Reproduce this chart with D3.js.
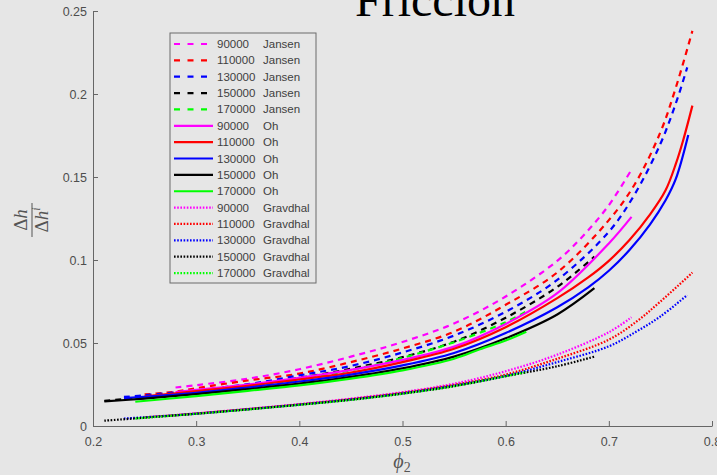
<!DOCTYPE html>
<html>
<head>
<meta charset="utf-8">
<script src="https://cdn.jsdelivr.net/npm/d3@7"></script>
<style>
  html, body { margin: 0; padding: 0; background: #e6e6e6; }
  svg { display: block; }
  .tick text { font-family: "Liberation Sans", Arial, sans-serif; font-size: 12.5px; fill: #4d4d4d; }
  .legend text { font-family: "Liberation Sans", Arial, sans-serif; font-size: 11.5px; fill: #404040; }
</style>
</head>
<body>
<div id="chart"></div>
<script>
// phi_2, delta h / delta h^i
const flows = ["90000", "110000", "130000", "150000", "170000"]
const flowColors = ["#ff00ff", "#ff0000", "#0000ff", "#000000", "#00ff00"]
const models = ["Jansen", "Oh", "Gravdhal"]

const jansen90000 = [[0.28,0.0232],[0.30,0.0246],[0.35,0.0285],[0.40,0.0342],[0.45,0.0418],[0.50,0.0506],[0.55,0.0618],[0.60,0.0780],[0.65,0.0995],[0.675,0.1145],[0.70,0.1330],[0.722,0.1545]]
const jansen110000 = [[0.25,0.0190],[0.28,0.0207],[0.30,0.0228],[0.35,0.0274],[0.40,0.0316],[0.45,0.0385],[0.50,0.0467],[0.55,0.0568],[0.60,0.0730],[0.65,0.0925],[0.70,0.1240],[0.725,0.1455],[0.75,0.1770],[0.765,0.2040],[0.781,0.2380]]
const jansen130000 = [[0.23,0.0175],[0.25,0.0185],[0.30,0.0215],[0.35,0.0252],[0.40,0.0305],[0.45,0.0362],[0.50,0.0443],[0.55,0.0545],[0.60,0.0688],[0.65,0.0880],[0.70,0.1170],[0.725,0.1395],[0.75,0.1700],[0.765,0.1945],[0.776,0.2160]]
const jansen150000 = [[0.211,0.0152],[0.25,0.0172],[0.30,0.0203],[0.35,0.0242],[0.40,0.0290],[0.45,0.0345],[0.50,0.0415],[0.55,0.0508],[0.60,0.0652],[0.65,0.0838],[0.686,0.1020]]
const jansen170000 = [[0.241,0.0163],[0.30,0.0198],[0.35,0.0234],[0.40,0.0280],[0.45,0.0336],[0.50,0.0410],[0.55,0.0505],[0.60,0.0625],[0.62,0.0690]]

const oh90000 = [[0.28,0.0205],[0.30,0.0218],[0.35,0.0250],[0.40,0.0290],[0.45,0.0338],[0.50,0.0398],[0.55,0.0478],[0.60,0.0615],[0.65,0.0800],[0.70,0.1100],[0.722,0.1260]]
const oh110000 = [[0.25,0.0178],[0.30,0.0210],[0.35,0.0242],[0.40,0.0280],[0.45,0.0322],[0.50,0.0385],[0.55,0.0465],[0.60,0.0595],[0.65,0.0770],[0.68,0.0895],[0.70,0.0995],[0.72,0.1120],[0.74,0.1275],[0.755,0.1420],[0.765,0.1580],[0.772,0.1720],[0.781,0.1930]]
const oh130000 = [[0.23,0.0168],[0.30,0.0200],[0.35,0.0232],[0.40,0.0268],[0.45,0.0310],[0.50,0.0365],[0.55,0.0440],[0.60,0.0560],[0.65,0.0715],[0.68,0.0835],[0.70,0.0935],[0.72,0.1060],[0.74,0.1215],[0.755,0.1360],[0.765,0.1490],[0.777,0.1753]]
const oh150000 = [[0.211,0.0148],[0.25,0.0165],[0.30,0.0192],[0.35,0.0222],[0.40,0.0255],[0.45,0.0296],[0.50,0.0347],[0.55,0.0418],[0.60,0.0528],[0.65,0.0672],[0.686,0.0830]]
const oh170000 = [[0.241,0.0146],[0.30,0.0180],[0.35,0.0212],[0.40,0.0245],[0.45,0.0285],[0.50,0.0335],[0.55,0.0405],[0.575,0.0462],[0.60,0.0515],[0.62,0.0568]]

const gravdhal90000 = [[0.28,0.0065],[0.30,0.0076],[0.35,0.0103],[0.40,0.0132],[0.45,0.0165],[0.50,0.0204],[0.55,0.0255],[0.60,0.0330],[0.65,0.0430],[0.70,0.0565],[0.722,0.0655]]
const gravdhal110000 = [[0.25,0.0052],[0.30,0.0075],[0.35,0.0102],[0.40,0.0130],[0.45,0.0162],[0.50,0.0200],[0.55,0.0248],[0.60,0.0310],[0.65,0.0405],[0.70,0.0520],[0.727,0.0630],[0.75,0.0750],[0.781,0.0924]]
const gravdhal130000 = [[0.23,0.0045],[0.30,0.0074],[0.35,0.0101],[0.40,0.0129],[0.45,0.0160],[0.50,0.0197],[0.55,0.0244],[0.60,0.0302],[0.65,0.0385],[0.70,0.0480],[0.727,0.0570],[0.75,0.0660],[0.776,0.0789]]
const gravdhal150000 = [[0.211,0.0032],[0.25,0.0050],[0.30,0.0074],[0.35,0.0100],[0.40,0.0128],[0.45,0.0158],[0.50,0.0195],[0.55,0.0240],[0.60,0.0300],[0.65,0.0360],[0.686,0.0418]]
const gravdhal170000 = [[0.241,0.0045],[0.30,0.0073],[0.35,0.0099],[0.40,0.0127],[0.45,0.0157],[0.50,0.0194],[0.55,0.0240],[0.60,0.0300],[0.62,0.0325]]

const xTicks = [0.2, 0.3, 0.4, 0.5, 0.6, 0.7, 0.8]
const yTicks = [0, 0.05, 0.1, 0.15, 0.2, 0.25]

const curves = {
  Jansen: [jansen90000, jansen110000, jansen130000, jansen150000, jansen170000],
  Oh: [oh90000, oh110000, oh130000, oh150000, oh170000],
  Gravdhal: [gravdhal90000, gravdhal110000, gravdhal130000, gravdhal150000, gravdhal170000],
}

var dims = {
  width: 717,
  height: 475,
  left: 93, right: 712, top: 11, bottom: 426,
  legend: { x: 170, y: 33, w: 146, h: 250, firstRow: 11, rowStep: 16.36 },
}

var dash = { Jansen: "6,5", Oh: null, Gravdhal: "1.6,1.6" }

var svg = d3.select("#chart").append("svg")
  .attr("width", dims.width)
  .attr("height", dims.height)

svg.append("rect")
  .attr("width", dims.width)
  .attr("height", dims.height)
  .attr("fill", "#e6e6e6")

var x = d3.scaleLinear().domain([0.2, 0.8]).range([dims.left, dims.right])
var y = d3.scaleLinear().domain([0, 0.25]).range([dims.bottom, dims.top])

// title
svg.append("text")
  .attr("x", 435)
  .attr("y", 16)
  .attr("text-anchor", "middle")
  .attr("font-family", "Liberation Serif, Times New Roman, serif")
  .attr("font-size", "48px")
  .attr("fill", "#000")
  .text("Fricción")

// curves
var line = d3.line()
  .x(d => x(d[0]))
  .y(d => y(d[1]))
  .curve(d3.curveCatmullRom.alpha(0.5))

var gCurves = svg.append("g")
models.forEach(m => {
  curves[m].forEach((data, i) => {
    gCurves.append("path")
      .attr("d", line(data))
      .attr("fill", "none")
      .attr("stroke", flowColors[i])
      .attr("stroke-width", 2.2)
      .attr("stroke-dasharray", dash[m])
  })
})

// axes
var xAxis = svg.append("g")
  .attr("transform", `translate(0,${dims.bottom})`)
  .call(d3.axisBottom(x)
    .tickValues(xTicks)
    .tickFormat(d3.format("~g"))
    .tickSizeInner(-5)
    .tickSizeOuter(0)
    .tickPadding(11))
var yAxis = svg.append("g")
  .attr("transform", `translate(${dims.left},0)`)
  .call(d3.axisLeft(y)
    .tickValues(yTicks)
    .tickFormat(d3.format("~g"))
    .tickSizeInner(-5)
    .tickSizeOuter(0)
    .tickPadding(6))
;[xAxis, yAxis].forEach(a => {
  a.select(".domain").attr("stroke", "#666").attr("stroke-width", 1)
  a.selectAll(".tick line").attr("stroke", "#666")
})

// axis labels
var xLabel = svg.append("text")
  .attr("x", 402)
  .attr("y", 468)
  .attr("text-anchor", "middle")
  .attr("font-family", "Liberation Serif, serif")
  .attr("font-size", "20px")
  .attr("fill", "#555")
xLabel.append("tspan").attr("font-style", "italic").text("ϕ")
xLabel.append("tspan").attr("font-size", "14px").attr("dy", 4).text("2")

var gYLabel = svg.append("g")
  .attr("transform", "translate(32,220) rotate(-90)")
  .attr("font-family", "Liberation Serif, serif")
  .attr("fill", "#555")
var num = gYLabel.append("text").attr("text-anchor", "middle").attr("y", -5).attr("font-size", "19px")
num.append("tspan").text("Δ")
num.append("tspan").attr("font-style", "italic").text("h")
gYLabel.append("line")
  .attr("x1", -17).attr("x2", 17).attr("y1", 0).attr("y2", 0)
  .attr("stroke", "#555").attr("stroke-width", 1)
var den = gYLabel.append("text").attr("text-anchor", "middle").attr("y", 16).attr("font-size", "19px")
den.append("tspan").text("Δ")
den.append("tspan").attr("font-style", "italic").text("h")
den.append("tspan").attr("font-style", "italic").attr("font-size", "12px").attr("dy", -8).text("i")

// legend
var L = dims.legend
var gLegend = svg.append("g")
  .attr("class", "legend")
  .attr("transform", `translate(${L.x},${L.y})`)
gLegend.append("rect")
  .attr("width", L.w)
  .attr("height", L.h)
  .attr("fill", "#e6e6e6")
  .attr("stroke", "#6b6b6b")
  .attr("stroke-width", 1)

var rows = []
models.forEach(m => flows.forEach((f, i) => rows.push({ model: m, flow: f, color: flowColors[i] })))
var row = gLegend.selectAll(".row")
  .data(rows)
  .enter().append("g")
  .attr("class", "row")
  .attr("transform", (d, i) => `translate(0,${L.firstRow + i * L.rowStep})`)
row.append("line")
  .attr("x1", 4).attr("x2", 43)
  .attr("stroke", d => d.color)
  .attr("stroke-width", 2.2)
  .attr("stroke-dasharray", d => d.model === "Jansen" ? "6,7.5" : dash[d.model])
row.append("text")
  .attr("x", 47).attr("y", 4)
  .text(d => d.flow)
row.append("text")
  .attr("x", 93).attr("y", 4)
  .text(d => d.model)
</script>
</body>
</html>
